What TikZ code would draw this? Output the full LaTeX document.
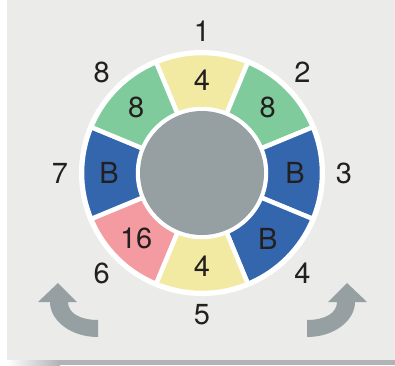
\documentclass[tikz,border=0pt]{standalone}
\usepackage{fontspec}
\setmainfont{TeX Gyre Heros}
\usepackage{tikz}
\definecolor{panelgray}{HTML}{EBEBE9}
\definecolor{shadowgray}{HTML}{B2B3B6}
\definecolor{segyellow}{HTML}{F2E9A3}
\definecolor{seggreen}{HTML}{80CB9C}
\definecolor{segblue}{HTML}{3366AD}
\definecolor{segpink}{HTML}{F49BA2}
\definecolor{hubgray}{HTML}{969FA1}
\definecolor{inkblack}{HTML}{231F20}
\tikzset{label text/.style={font=\fontsize{29}{33}\selectfont, text=inkblack, inner sep=0pt}}
\newcommand{\turnarrow}{%
  (0,45) -- (0,28) .. controls (-28,28) and (-48,45) .. (-48,63)
  -- (-60,63) -- (-40,82) -- (-21,63) -- (-30,63)
  .. controls (-30,52) and (-18,45) .. (0,45) -- cycle}

\begin{document}
\begin{tikzpicture}[x=1pt, y=1pt]
    \useasboundingbox (0,0) rectangle (395,365);
    \fill[white] (0,0) rectangle (395,365);
    \shade[left color=white, right color=shadowgray] (7,0) rectangle (60,5);
    \fill[shadowgray] (60,0) rectangle (395,5);
    \fill[panelgray] (7,5) rectangle (395,365);
    \begin{scope}[shift={(202,192)}]
        \fill[white] (0,0) circle (123);
        \foreach \k/\col/\txt in {1/segyellow/4, 2/seggreen/8, 3/segblue/B, 4/segblue/B,
                                  5/segyellow/4, 6/segpink/16, 7/segblue/B, 8/seggreen/8} {
            \pgfmathsetmacro{\mid}{90-45*(\k-1)}
            \filldraw[fill=\col, draw=white, line width=4.5, line join=miter]
                (\mid-22.5:120) arc[start angle=\mid-22.5, end angle=\mid+22.5, radius=120]
                -- (\mid+22.5:64) arc[start angle=\mid+22.5, end angle=\mid-22.5, radius=64] -- cycle;
            \node[label text] (seg\k) at (\mid:93) {\txt};
            \node[label text] (pos\k) at (\mid:142) {\k};
        }
        \fill[hubgray] (0,0) circle (62);
    \end{scope}
    % turning arrows
    \fill[hubgray] [shift={(98,0)}] \turnarrow;
    \fill[hubgray] [shift={(307,0)}, xscale=-1] \turnarrow;
\end{tikzpicture}
\end{document}
